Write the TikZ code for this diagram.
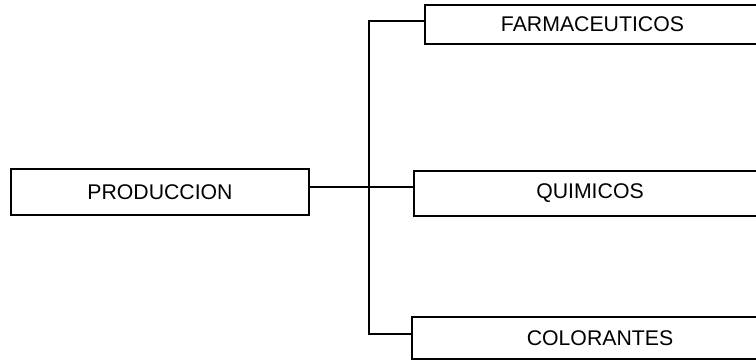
\documentclass[tikz,border=0pt]{standalone}
\usepackage{fontspec}
\setmainfont{Liberation Sans}
\tikzstyle{box} = [rectangle, draw=black, line width=0.8pt, text centered, inner sep=0pt, font=\fontsize{16}{19}\selectfont]
\tikzstyle{link} = [draw=black, line width=0.9pt]

\begin{document}
\begin{tikzpicture}
		\useasboundingbox (0,0) rectangle (20.003,9.525);
		\clip (0,0) rectangle (20.003,9.525);
		\coordinate (produccion) at (4.233,4.445);
		\coordinate (farmaceuticos) at (15.676,8.877);
		\coordinate (quimicos) at (15.610,4.405);
		\coordinate (colorantes) at (15.875,0.582);
		\coordinate (hub) at (9.763,4.577);
		\coordinate (trunktop) at (9.763,8.969);
		\coordinate (trunkbot) at (9.763,0.688);
		% Root
		\node[box, name=produccion, minimum width=7.885cm, minimum height=1.217cm] at (produccion) {PRODUCCION};
		% Branches
		\node[box, name=farmaceuticos, minimum width=8.863cm, minimum height=1.032cm] at (farmaceuticos) {FARMACEUTICOS};
		\node[box, name=quimicos, minimum width=9.313cm, minimum height=1.191cm] at (quimicos) {QUIMICOS};
		\node[box, name=colorantes, minimum width=9.948cm, minimum height=1.111cm] at (colorantes) {COLORANTES};
		% Connectors
		\draw [link] (produccion.east |- hub) -- (quimicos.west |- hub);
		\draw [link] (farmaceuticos.west |- trunktop) -- (trunktop) -- (trunkbot) -- (colorantes.west |- trunkbot);
\end{tikzpicture}
\end{document}
